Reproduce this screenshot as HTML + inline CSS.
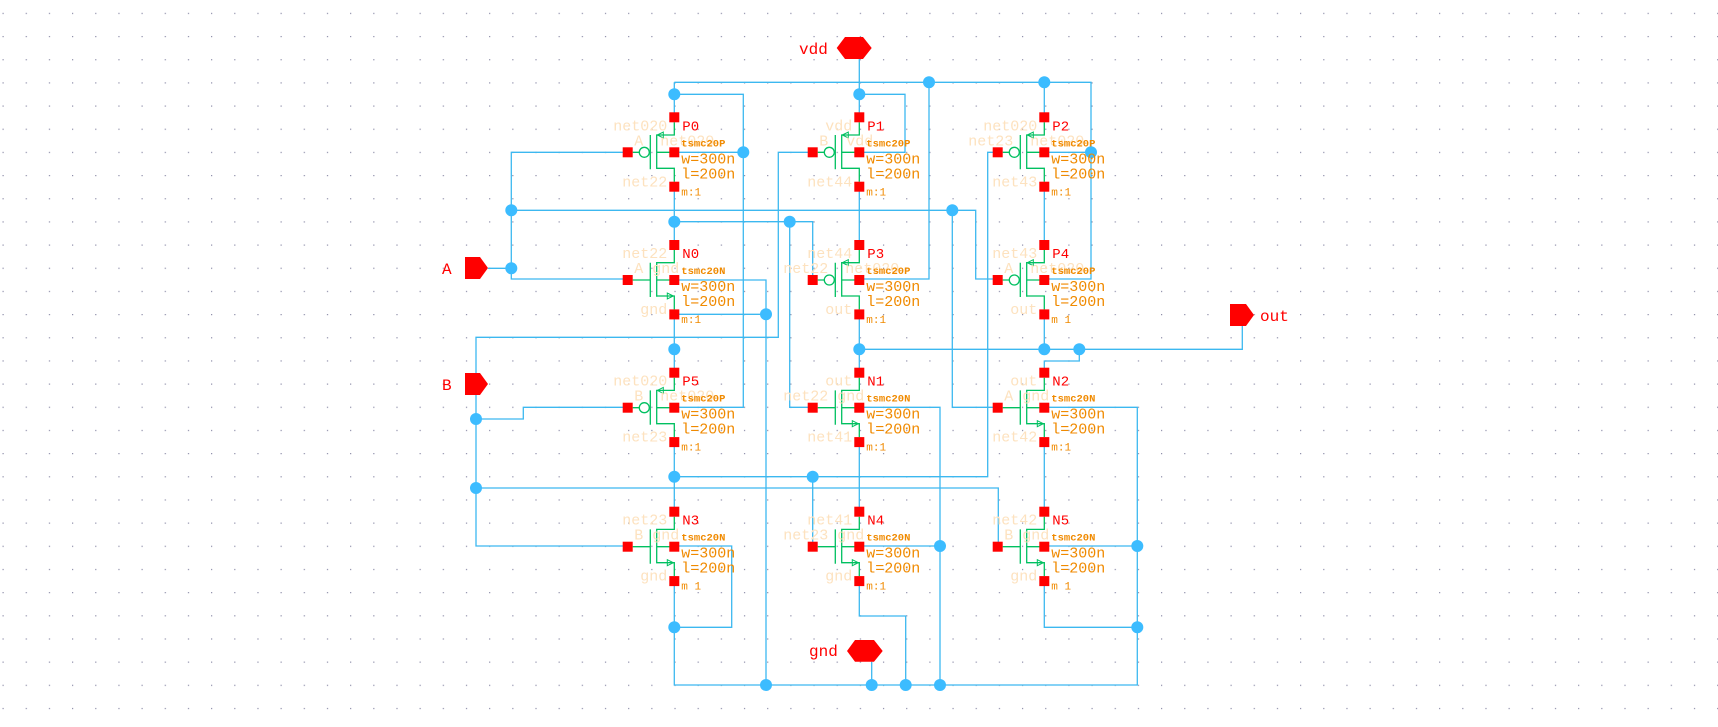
<!DOCTYPE html>
<html><head><meta charset="utf-8"><style>
html,body{margin:0;padding:0;background:#fff;}
svg{display:block}
.nm{font:14px "Liberation Mono",monospace;fill:#f00}
.md{font:bold 10.5px "Liberation Mono",monospace;fill:#f08a00}
.wl{font:15px "Liberation Mono",monospace;fill:#f08a00}
.mm{font:11px "Liberation Mono",monospace;fill:#f08a00}
.fl{font:15px "Liberation Mono",monospace;fill:#fde2bf}
.pt{font:16px "Liberation Mono",monospace;fill:#f00}
</style></head><body>
<svg width="1718" height="727" viewBox="0 0 1718 727" xmlns="http://www.w3.org/2000/svg">
<defs>
<pattern id="gr" x="2.5" y="12.8" width="23.17" height="23.17" patternUnits="userSpaceOnUse"><rect x="0" y="0" width="1.2" height="1.2" fill="#8c8ca8"/></pattern>
<g id="pm">
<path d="M0,5V17.7H-17.6V51.7M-17.6,51H0V64.4M-17.6,35H0M-24,17.7V52M-41.6,35H-35M-25,35H-24" fill="none" stroke="#00c060" stroke-width="1.3"/>
<circle cx="-30" cy="35" r="5" fill="none" stroke="#00c060" stroke-width="1.3"/>
<polygon points="-17,17.7 -11,14.7 -11,20.7" fill="none" stroke="#00c060" stroke-width="1"/>
<rect x="-5" y="-5" width="10" height="10" fill="#f00"/><rect x="-5" y="30" width="10" height="10" fill="#f00"/><rect x="-5" y="64.4" width="10" height="10" fill="#f00"/><rect x="-51.6" y="30" width="10" height="10" fill="#f00"/>
</g>
<g id="nm">
<path d="M0,5V17.7H-17.6V51.7M-17.6,51H0V64.4M-17.6,35H0M-24,17.7V52M-41.6,35H-24" fill="none" stroke="#00c060" stroke-width="1.3"/>
<polygon points="-1,51 -7,48 -7,54" fill="none" stroke="#00c060" stroke-width="1"/>
<rect x="-5" y="-5" width="10" height="10" fill="#f00"/><rect x="-5" y="30" width="10" height="10" fill="#f00"/><rect x="-5" y="64.4" width="10" height="10" fill="#f00"/><rect x="-51.6" y="30" width="10" height="10" fill="#f00"/>
</g>
</defs>
<rect width="1718" height="727" fill="url(#gr)"/>
<path fill="none" stroke="#3cb8f0" stroke-width="1.3" d="
M674.3,82.3H1091V279H1044.3 M1091,152.3H1044.3 M674.3,82.3V117.3
M674.3,94.3H743.3V407.3H674.3 M743.3,152.3H674.3
M859.3,59V117.3 M859.3,94.3H905V152.3H859.3 M929,82.3V279H859.3
M1044.3,82.3V117.3
M627.7,152.3H511.3V279H627.7 M488,268.3H511.3
M511.3,210.3H975.7V279H998.3 M952.3,210.3V407.3H998.3
M674.3,186.7V245 M674.3,221.7H812.7V279 M789.7,221.7V407.3H812.7
M859.3,186.7V245 M1044.3,186.7V245
M812.7,152.3H778.3V337.3H476V546H627.7
M998.3,152.3H987.7V476.7H674.3
M674.3,280H766V685 M674.3,314.3H766
M674.3,315V372.7 M859.3,315V372.7 M1044.3,315V349.3
M859.3,349.3H1242.3V326 M1079.3,349.3V361H1044.3V372.7
M476,419H523.3V407.3H627.7 M476,488H998.3V546
M674.3,441.7V511.7 M859.3,441.7V511.7 M1044.3,441.7V511.7
M812.7,476.7V546
M674.3,546H731.7V627.3H674.3
M674.3,581V685H1137.3V407.3H1044.3
M859.3,407.3H940V685 M859.3,546H940
M859.3,581V616H905.7V685 M871.7,661.7V685
M1044.3,546H1137.3 M1044.3,581V627.3H1137.3"/>
<g fill="#3cbcff">
<circle cx="674.3" cy="94.3" r="6"/><circle cx="859.3" cy="94.3" r="6"/><circle cx="929" cy="82.3" r="6"/><circle cx="1044.3" cy="82.3" r="6"/>
<circle cx="743.3" cy="152.3" r="6"/><circle cx="1091" cy="152.3" r="6"/><circle cx="511.3" cy="210.3" r="6"/><circle cx="952.3" cy="210.3" r="6"/>
<circle cx="674.3" cy="221.7" r="6"/><circle cx="789.7" cy="221.7" r="6"/><circle cx="511.3" cy="268.3" r="6"/><circle cx="766" cy="314.3" r="6"/>
<circle cx="674.3" cy="349.3" r="6"/><circle cx="859.3" cy="349.3" r="6"/><circle cx="1044.3" cy="349.3" r="6"/><circle cx="1079.3" cy="349.3" r="6"/>
<circle cx="476" cy="419" r="6"/><circle cx="674.3" cy="476.7" r="6"/><circle cx="812.7" cy="476.7" r="6"/><circle cx="476" cy="488" r="6"/>
<circle cx="940" cy="546" r="6"/><circle cx="1137.3" cy="546" r="6"/><circle cx="674.3" cy="627.3" r="6"/><circle cx="1137.3" cy="627.3" r="6"/>
<circle cx="766" cy="685" r="6"/><circle cx="871.7" cy="685" r="6"/><circle cx="905.7" cy="685" r="6"/><circle cx="940" cy="685" r="6"/>
</g>
<g fill="#f00">
<polygon points="836.7,48 845,37 863,37 871.7,48 863,59 845,59"/>
<polygon points="847,651 855,640 874,640 882.7,651 874,661.7 855,661.7"/>
<polygon points="465,257 480,257 488,268 480,279 465,279"/>
<polygon points="465,373 480,373 488,384 480,395 465,395"/>
<polygon points="1230,304 1246,304 1254,315 1246,326 1230,326"/>
</g>
<text class="pt" x="799" y="54">vdd</text>
<text class="pt" x="809" y="656">gnd</text>
<text class="pt" x="442" y="274">A</text>
<text class="pt" x="442" y="390">B</text>
<text class="pt" x="1260" y="321">out</text>

<g transform="translate(674.3,117.3)"><use href="#pm"/><text class="fl" x="-7" y="13" text-anchor="end">net020</text><text class="fl" x="-31" y="28" text-anchor="end">A</text><text class="fl" x="-14" y="28">net020</text><text class="fl" x="-7" y="69" text-anchor="end">net22</text><text class="nm" x="8" y="13">P0</text><text class="md" x="7" y="29">tsmc20P</text><text class="wl" x="7" y="46">w=300n</text><text class="wl" x="7" y="61">l=200n</text><text class="mm" x="7" y="78">m:1</text></g>
<g transform="translate(674.3,245)"><use href="#nm"/><text class="fl" x="-7" y="13" text-anchor="end">net22</text><text class="fl" x="-31" y="28" text-anchor="end">A</text><text class="fl" x="-22" y="28">gnd</text><text class="fl" x="-7" y="69" text-anchor="end">gnd</text><text class="nm" x="8" y="13">N0</text><text class="md" x="7" y="29">tsmc20N</text><text class="wl" x="7" y="46">w=300n</text><text class="wl" x="7" y="61">l=200n</text><text class="mm" x="7" y="78">m:1</text></g>
<g transform="translate(674.3,372.7)"><use href="#pm"/><text class="fl" x="-7" y="13" text-anchor="end">net020</text><text class="fl" x="-31" y="28" text-anchor="end">B</text><text class="fl" x="-14" y="28">net020</text><text class="fl" x="-7" y="69" text-anchor="end">net23</text><text class="nm" x="8" y="13">P5</text><text class="md" x="7" y="29">tsmc20P</text><text class="wl" x="7" y="46">w=300n</text><text class="wl" x="7" y="61">l=200n</text><text class="mm" x="7" y="78">m:1</text></g>
<g transform="translate(674.3,511.7)"><use href="#nm"/><text class="fl" x="-7" y="13" text-anchor="end">net23</text><text class="fl" x="-31" y="28" text-anchor="end">B</text><text class="fl" x="-22" y="28">gnd</text><text class="fl" x="-7" y="69" text-anchor="end">gnd</text><text class="nm" x="8" y="13">N3</text><text class="md" x="7" y="29">tsmc20N</text><text class="wl" x="7" y="46">w=300n</text><text class="wl" x="7" y="61">l=200n</text><text class="mm" x="7" y="78">m 1</text></g>

<g transform="translate(859.3,117.3)"><use href="#pm"/><text class="fl" x="-7" y="13" text-anchor="end">vdd</text><text class="fl" x="-31" y="28" text-anchor="end">B</text><text class="fl" x="-13" y="28">vdd</text><text class="fl" x="-7" y="69" text-anchor="end">net44</text><text class="nm" x="8" y="13">P1</text><text class="md" x="7" y="29">tsmc20P</text><text class="wl" x="7" y="46">w=300n</text><text class="wl" x="7" y="61">l=200n</text><text class="mm" x="7" y="78">m:1</text></g>
<g transform="translate(859.3,245)"><use href="#pm"/><text class="fl" x="-7" y="13" text-anchor="end">net44</text><text class="fl" x="-31" y="28" text-anchor="end">net22</text><text class="fl" x="-14" y="28">net020</text><text class="fl" x="-7" y="69" text-anchor="end">out</text><text class="nm" x="8" y="13">P3</text><text class="md" x="7" y="29">tsmc20P</text><text class="wl" x="7" y="46">w=300n</text><text class="wl" x="7" y="61">l=200n</text><text class="mm" x="7" y="78">m:1</text></g>
<g transform="translate(859.3,372.7)"><use href="#nm"/><text class="fl" x="-7" y="13" text-anchor="end">out</text><text class="fl" x="-31" y="28" text-anchor="end">net22</text><text class="fl" x="-22" y="28">gnd</text><text class="fl" x="-7" y="69" text-anchor="end">net41</text><text class="nm" x="8" y="13">N1</text><text class="md" x="7" y="29">tsmc20N</text><text class="wl" x="7" y="46">w=300n</text><text class="wl" x="7" y="61">l=200n</text><text class="mm" x="7" y="78">m:1</text></g>
<g transform="translate(859.3,511.7)"><use href="#nm"/><text class="fl" x="-7" y="13" text-anchor="end">net41</text><text class="fl" x="-31" y="28" text-anchor="end">net23</text><text class="fl" x="-22" y="28">gnd</text><text class="fl" x="-7" y="69" text-anchor="end">gnd</text><text class="nm" x="8" y="13">N4</text><text class="md" x="7" y="29">tsmc20N</text><text class="wl" x="7" y="46">w=300n</text><text class="wl" x="7" y="61">l=200n</text><text class="mm" x="7" y="78">m:1</text></g>

<g transform="translate(1044.3,117.3)"><use href="#pm"/><text class="fl" x="-7" y="13" text-anchor="end">net020</text><text class="fl" x="-31" y="28" text-anchor="end">net23</text><text class="fl" x="-14" y="28">net020</text><text class="fl" x="-7" y="69" text-anchor="end">net43</text><text class="nm" x="8" y="13">P2</text><text class="md" x="7" y="29">tsmc20P</text><text class="wl" x="7" y="46">w=300n</text><text class="wl" x="7" y="61">l=200n</text><text class="mm" x="7" y="78">m:1</text></g>
<g transform="translate(1044.3,245)"><use href="#pm"/><text class="fl" x="-7" y="13" text-anchor="end">net43</text><text class="fl" x="-31" y="28" text-anchor="end">A</text><text class="fl" x="-14" y="28">net020</text><text class="fl" x="-7" y="69" text-anchor="end">out</text><text class="nm" x="8" y="13">P4</text><text class="md" x="7" y="29">tsmc20P</text><text class="wl" x="7" y="46">w=300n</text><text class="wl" x="7" y="61">l=200n</text><text class="mm" x="7" y="78">m 1</text></g>
<g transform="translate(1044.3,372.7)"><use href="#nm"/><text class="fl" x="-7" y="13" text-anchor="end">out</text><text class="fl" x="-31" y="28" text-anchor="end">A</text><text class="fl" x="-22" y="28">gnd</text><text class="fl" x="-7" y="69" text-anchor="end">net42</text><text class="nm" x="8" y="13">N2</text><text class="md" x="7" y="29">tsmc20N</text><text class="wl" x="7" y="46">w=300n</text><text class="wl" x="7" y="61">l=200n</text><text class="mm" x="7" y="78">m:1</text></g>
<g transform="translate(1044.3,511.7)"><use href="#nm"/><text class="fl" x="-7" y="13" text-anchor="end">net42</text><text class="fl" x="-31" y="28" text-anchor="end">B</text><text class="fl" x="-22" y="28">gnd</text><text class="fl" x="-7" y="69" text-anchor="end">gnd</text><text class="nm" x="8" y="13">N5</text><text class="md" x="7" y="29">tsmc20N</text><text class="wl" x="7" y="46">w=300n</text><text class="wl" x="7" y="61">l=200n</text><text class="mm" x="7" y="78">m 1</text></g>
</svg>
</body></html>
